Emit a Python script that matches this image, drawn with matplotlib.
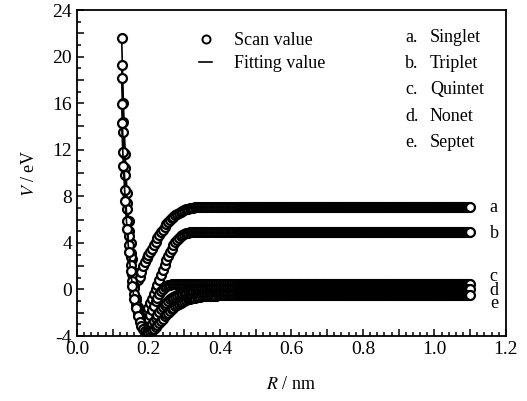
import matplotlib
matplotlib.use('Agg')
import matplotlib.pyplot as plt
from matplotlib.ticker import MultipleLocator, FuncFormatter
from matplotlib.lines import Line2D
import numpy as np

plt.rcParams['font.family'] = ['Liberation Serif', 'DejaVu Serif']
plt.rcParams['mathtext.fontset'] = 'stix'

# scan grid (nm): fine part near the well, dense tail out to 1.1 nm
R_CORE = np.round(np.arange(0.125, 0.4501, 0.005), 4)
R_TAIL = np.round(np.arange(0.4525, 1.1001, 0.0025), 4)

# potential values (eV), R = 0.125, 0.130, ...
v_singlet = [21.6, 16.0, 11.6, 8.3, 5.9, 4.0, 2.6, 1.5, 0.9, 0.8, 1.1, 1.5,
             2.0, 2.4, 2.7, 3.0, 3.2, 3.5, 3.8, 4.1, 4.4, 4.65, 4.9, 5.15,
             5.4, 5.6, 5.8, 5.95, 6.1, 6.25, 6.4, 6.5, 6.6, 6.68, 6.75, 6.82,
             6.87, 6.92, 6.96, 6.99, 7.02, 7.04, 7.05, 7.06, 7.07, 7.08, 7.09,
             7.09]
v_triplet = [19.3, 14.4, 10.4, 7.4, 5.0, 3.1, 1.5, 0.3, -0.7, -1.5, -2.1,
             -2.4, -2.5, -2.3, -2.0, -1.6, -1.2, -0.8, -0.4, 0.0, 0.4, 0.85,
             1.25, 1.7, 2.1, 2.5, 2.85, 3.2, 3.5, 3.8, 4.05, 4.25, 4.45, 4.6,
             4.7, 4.78, 4.84, 4.88, 4.91, 4.93, 4.94]
v_quintet = [18.2, 13.5, 9.8, 6.9, 4.6, 2.8, 1.3, 0.1, -0.9, -1.7, -2.3,
             -2.7, -2.95, -3.0, -2.9, -2.6, -2.2, -1.8, -1.4, -1.0, -0.7,
             -0.4, -0.15, 0.05, 0.2, 0.3, 0.37, 0.42, 0.45, 0.47, 0.48, 0.49]
v_nonet = [15.9, 11.8, 8.5, 5.9, 3.8, 2.1, 0.7, -0.4, -1.3, -2.0, -2.5, -2.9,
           -3.15, -3.3, -3.35, -3.3, -3.15, -2.95, -2.7, -2.45, -2.2, -1.95,
           -1.7, -1.5, -1.3, -1.12, -0.97, -0.84, -0.72, -0.62, -0.53, -0.45,
           -0.38, -0.32, -0.27, -0.23, -0.19, -0.16, -0.13, -0.11, -0.09,
           -0.07, -0.06, -0.05, -0.04, -0.03, -0.03, -0.02, -0.02, -0.01]
v_septet = [14.3, 10.6, 7.6, 5.2, 3.2, 1.6, 0.3, -0.8, -1.6, -2.3, -2.8,
            -3.15, -3.4, -3.55, -3.62, -3.65, -3.6, -3.5, -3.38, -3.22, -3.05,
            -2.87, -2.68, -2.5, -2.32, -2.15, -1.98, -1.83, -1.68, -1.55,
            -1.43, -1.32, -1.22, -1.13, -1.05, -0.98, -0.92, -0.86, -0.81,
            -0.77, -0.73, -0.7, -0.67, -0.64, -0.62, -0.6, -0.58, -0.57,
            -0.56, -0.55, -0.54, -0.53, -0.52, -0.52, -0.51, -0.51]

# asymptotic values (eV) of each state
plateaus = [7.1, 4.95, 0.5, 0.0, -0.5]
letters = ['a', 'b', 'c', 'd', 'e']
states = ['Singlet', 'Triplet', 'Quintet', 'Nonet', 'Septet']
letter_y = [7.08, 4.84, 1.1, -0.05, -1.2]

curves = [v_singlet, v_triplet, v_quintet, v_nonet, v_septet]

fig = plt.figure(figsize=(5.27, 4.01), dpi=100)
ax = fig.add_axes([0.146, 0.162, 0.814, 0.813])

MS, MEW = 6.4, 1.6
for v, p in zip(curves, plateaus):
    core = v + [p] * (len(R_CORE) - len(v))
    r_all = np.concatenate([R_CORE, R_TAIL])
    v_all = np.concatenate([core, [p] * len(R_TAIL)])
    ax.plot(r_all, v_all, '-', color='black', lw=1.2,
            marker='o', ms=MS, mew=MEW, mfc='white', mec='black')

ax.set_xlim(0.0, 1.2)
ax.set_ylim(-4, 24)
ax.xaxis.set_major_locator(MultipleLocator(0.1))
ax.xaxis.set_minor_locator(MultipleLocator(0.02))
ax.yaxis.set_major_locator(MultipleLocator(2))
ax.yaxis.set_minor_locator(MultipleLocator(1))
ax.xaxis.set_major_formatter(FuncFormatter(
    lambda x, pos: f'{x:.1f}' if round(x * 10) % 2 == 0 else ''))
ax.yaxis.set_major_formatter(FuncFormatter(
    lambda y, pos: f'{y:.0f}' if round(y) % 4 == 0 else ''))
ax.tick_params(which='both', direction='in', top=False, right=False,
               labelsize=14, width=1.1)
ax.tick_params(which='major', length=5)
ax.tick_params(which='minor', length=3)
for s in ax.spines.values():
    s.set_linewidth(1.3)

ax.set_xlabel('$R$ / nm', fontsize=13, labelpad=13)
ax.set_ylabel('$V$ / eV', fontsize=13, labelpad=10)

handles = [Line2D([], [], ls='none', marker='o', ms=5.8, mew=1.4,
                  mfc='white', mec='black'),
           Line2D([], [], ls='-', color='black', lw=1.2)]
ax.legend(handles, ['Scan value', 'Fitting value'], loc='center left',
          bbox_to_anchor=(0.285, 0.871), frameon=False, fontsize=13,
          handlelength=0.7, handletextpad=1.2, borderpad=0,
          borderaxespad=0, labelspacing=0.35)

list_y = [0.917, 0.837, 0.755, 0.672, 0.595]
for lt, st, yy in zip(letters, states, list_y):
    ax.text(0.765, yy, lt + '.', transform=ax.transAxes, fontsize=13,
            va='center', ha='left')
    ax.text(0.823, yy, st, transform=ax.transAxes, fontsize=13,
            va='center', ha='left')

for lt, yy in zip(letters, letter_y):
    ax.text(1.155, yy, lt, fontsize=13, va='center', ha='left')

fig.savefig('out.png', dpi=100)
